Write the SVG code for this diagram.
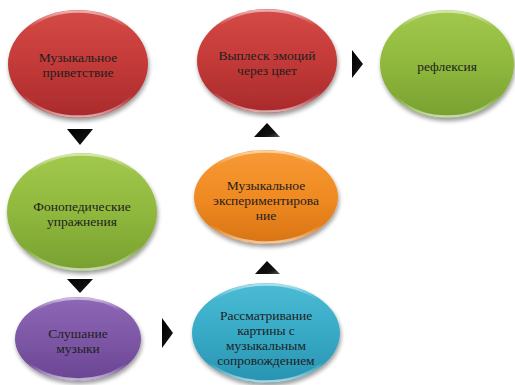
<svg xmlns="http://www.w3.org/2000/svg" width="515" height="385" viewBox="0 0 515 385">
<defs>
  <filter id="sh" x="-20%" y="-20%" width="140%" height="150%">
    <feGaussianBlur in="SourceAlpha" stdDeviation="2"/>
    <feOffset dx="1" dy="3" result="b"/>
    <feComponentTransfer><feFuncA type="linear" slope="0.4"/></feComponentTransfer>
    <feMerge><feMergeNode/><feMergeNode in="SourceGraphic"/></feMerge>
  </filter>
  <linearGradient id="gRed" x1="0" y1="0" x2="0" y2="1">
    <stop offset="0" stop-color="#d44a47"/><stop offset="0.5" stop-color="#c33a38"/><stop offset="1" stop-color="#a92a2c"/>
  </linearGradient>
  <linearGradient id="gGreen" x1="0" y1="0" x2="0" y2="1">
    <stop offset="0" stop-color="#a2c94c"/><stop offset="0.5" stop-color="#8fb83d"/><stop offset="1" stop-color="#78a030"/>
  </linearGradient>
  <linearGradient id="gOrange" x1="0" y1="0" x2="0" y2="1">
    <stop offset="0" stop-color="#f79a36"/><stop offset="0.5" stop-color="#f08a22"/><stop offset="1" stop-color="#d97414"/>
  </linearGradient>
  <linearGradient id="gPurple" x1="0" y1="0" x2="0" y2="1">
    <stop offset="0" stop-color="#8e68b6"/><stop offset="0.5" stop-color="#7d57a6"/><stop offset="1" stop-color="#694592"/>
  </linearGradient>
  <linearGradient id="gBlue" x1="0" y1="0" x2="0" y2="1">
    <stop offset="0" stop-color="#4cbbd4"/><stop offset="0.5" stop-color="#37aac6"/><stop offset="1" stop-color="#2893b0"/>
  </linearGradient>
  <linearGradient id="rim" x1="0" y1="0" x2="0" y2="1">
    <stop offset="0" stop-color="#ffffff" stop-opacity="0.55"/>
    <stop offset="0.15" stop-color="#ffffff" stop-opacity="0"/>
    <stop offset="0.8" stop-color="#ffffff" stop-opacity="0"/>
    <stop offset="1" stop-color="#ffffff" stop-opacity="0.6"/>
  </linearGradient>
  <linearGradient id="gArrow" x1="0" y1="0" x2="1" y2="1">
    <stop offset="0" stop-color="#000"/><stop offset="0.7" stop-color="#111"/><stop offset="1" stop-color="#555"/>
  </linearGradient>
</defs>
<style>
  .rim { fill: none; stroke: url(#rim); stroke-width: 2.5; }
  .t { font-family: "Liberation Serif", "DejaVu Serif", "Times New Roman", serif; font-size: 13.5px; fill: #1e1e1e; text-anchor: middle; }
  .arr { fill: url(#gArrow); }
</style>

<g id="connectors">
  <polygon class="arr" points="67,129 93,129 80,145"/>
  <polygon class="arr" points="67,279 93,279 80,293"/>
  <polygon class="arr" points="162,318 173,333 162,348"/>
  <polygon class="arr" points="255,274 280,274 267,261"/>
  <polygon class="arr" points="254,137 280,137 267,123"/>
  <polygon class="arr" points="352,50 363,64 352,78"/>
</g>

<g id="n1">
  <ellipse cx="78" cy="64" rx="70" ry="54" fill="url(#gRed)" filter="url(#sh)"/>
  <ellipse class="rim" cx="78" cy="64" rx="68.5" ry="52.5"/>
  <text class="t" x="78" y="62">Музыкальное</text>
  <text class="t" x="78" y="77">приветствие</text>
</g>

<g id="n2">
  <ellipse cx="267" cy="61" rx="70" ry="52" fill="url(#gRed)" filter="url(#sh)"/>
  <ellipse class="rim" cx="267" cy="61" rx="68.5" ry="50.5"/>
  <text class="t" x="267" y="60">Выплеск эмоций</text>
  <text class="t" x="267" y="75">через цвет</text>
</g>

<g id="n3">
  <ellipse cx="447" cy="64" rx="67" ry="54" fill="url(#gGreen)" filter="url(#sh)"/>
  <ellipse class="rim" cx="447" cy="64" rx="65.5" ry="52.5"/>
  <text class="t" x="447" y="71">рефлексия</text>
</g>

<g id="n4">
  <ellipse cx="82" cy="212" rx="75" ry="59" fill="url(#gGreen)" filter="url(#sh)"/>
  <ellipse class="rim" cx="82" cy="212" rx="73.5" ry="57.5"/>
  <text class="t" x="82" y="211">Фонопедические</text>
  <text class="t" x="82" y="226">упражнения</text>
</g>

<g id="n5">
  <ellipse cx="78" cy="339" rx="63" ry="42" fill="url(#gPurple)" filter="url(#sh)"/>
  <ellipse class="rim" cx="78" cy="339" rx="61.5" ry="40.5"/>
  <text class="t" x="78" y="338">Слушание</text>
  <text class="t" x="78" y="353">музыки</text>
</g>

<g id="n6">
  <ellipse cx="266" cy="333" rx="74" ry="50" fill="url(#gBlue)" filter="url(#sh)"/>
  <ellipse class="rim" cx="266" cy="333" rx="72.5" ry="48.5"/>
  <text class="t" x="266" y="320">Рассматривание</text>
  <text class="t" x="266" y="335">картины с</text>
  <text class="t" x="266" y="350">музыкальным</text>
  <text class="t" x="266" y="365">сопровождением</text>
</g>

<g id="n7">
  <ellipse cx="266" cy="197" rx="72" ry="47" fill="url(#gOrange)" filter="url(#sh)"/>
  <ellipse class="rim" cx="266" cy="197" rx="70.5" ry="45.5"/>
  <text class="t" x="266" y="190">Музыкальное</text>
  <text class="t" x="266" y="205">экспериментирова</text>
  <text class="t" x="266" y="220">ние</text>
</g>
</svg>
